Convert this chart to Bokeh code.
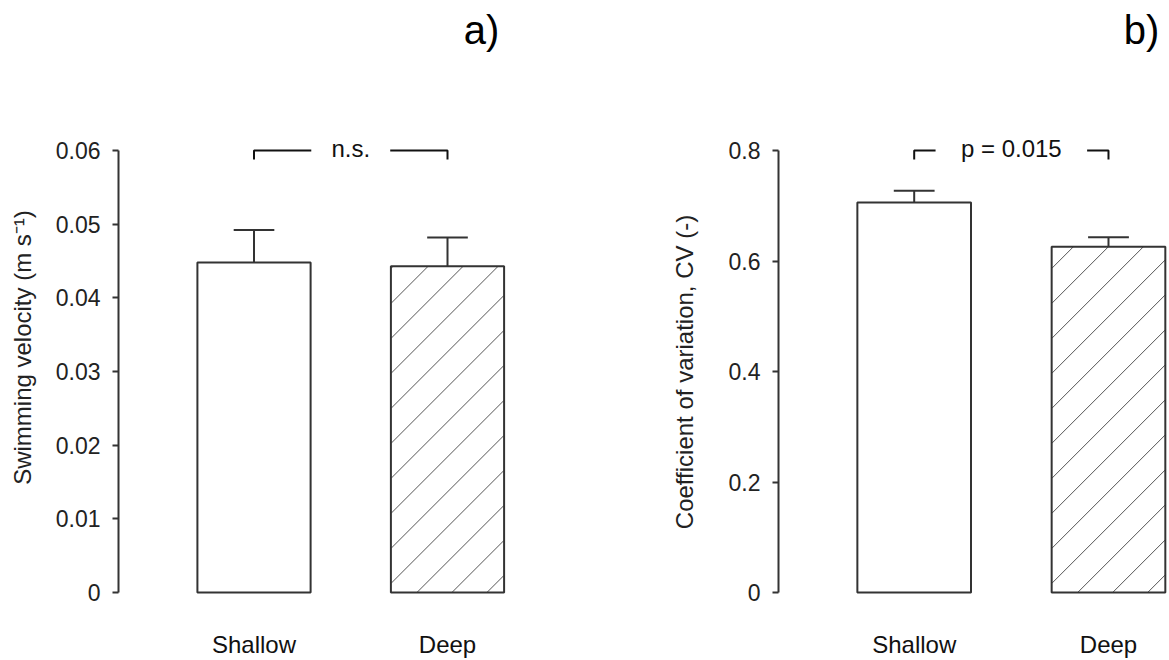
import math
from bokeh.plotting import figure
from bokeh.layouts import row
from bokeh.models import Range1d, FixedTicker, ColumnDataSource
from bokeh.core.properties import value
from bokeh.embed import file_html
from bokeh.resources import INLINE

# ---- data ----
categories = ["Shallow", "Deep"]
category_x = [1, 2]
hatched = [False, True]

velocity_mean = [0.0448, 0.0443]
velocity_sem = [0.0044, 0.0039]
velocity_ticks = [0, 0.01, 0.02, 0.03, 0.04, 0.05, 0.06]
velocity_tick_labels = ["0", "0.01", "0.02", "0.03", "0.04", "0.05", "0.06"]
velocity_label = "Swimming velocity (m s\u207b\u00b9)"
velocity_sig = "n.s."

cv_mean = [0.706, 0.626]
cv_sem = [0.021, 0.017]
cv_ticks = [0, 0.2, 0.4, 0.6, 0.8]
cv_tick_labels = ["0", "0.2", "0.4", "0.6", "0.8"]
cv_label = "Coefficient of variation, CV (-)"
cv_sig = "p = 0.015"

FONT = "Liberation Sans"
LINE = "#333333"
TEXT = "#222222"
HEIGHT = 660
BORDER_BOTTOM = 64
FRAME_H = HEIGHT - BORDER_BOTTOM
BAR_W = 0.585
HATCH_SPACING = 35   # px
HATCH_PHASE = 26     # px


def hatch_segments(xc, top, xpp, upp):
    """45-degree hatch lines clipped to one bar (computed from its value)."""
    L = xc - BAR_W / 2
    w_px = BAR_W / xpp
    h_px = top / upp
    x0s, y0s, x1s, y1s = [], [], [], []
    c = HATCH_PHASE - math.ceil(h_px / HATCH_SPACING) * HATCH_SPACING
    while c < w_px:
        t0 = max(0.0, -c)
        t1 = min(h_px, w_px - c)
        if t1 > t0:
            x0s.append(L + (c + t0) * xpp)
            y0s.append(t0 * upp)
            x1s.append(L + (c + t1) * xpp)
            y1s.append(t1 * upp)
        c += HATCH_SPACING
    return x0s, y0s, x1s, y1s


def label_fig(width, text, cx, cy):
    f = figure(width=width, height=HEIGHT, x_range=Range1d(0, width),
               y_range=Range1d(0, FRAME_H), output_backend="svg",
               toolbar_location=None, x_axis_location=None,
               y_axis_location=None, min_border_left=0, min_border_right=0,
               min_border_top=0, min_border_bottom=BORDER_BOTTOM)
    f.title.visible = False
    f.outline_line_color = None
    f.grid.visible = False
    f.text(x=[cx], y=[FRAME_H - cy], text=[text], angle=math.pi / 2,
           text_align="center", text_baseline="middle",
           text_font=value(FONT), text_font_size="24px", text_color=TEXT)
    return f


def panel(means, errs, ticks, tick_labels, letter, sig, width,
          border_left, border_right, x_start, x_end, gap_half, letter_x):
    ymax = ticks[-1]
    upp = ymax / 442.0  # data units per pixel
    frame_w = width - border_left - border_right
    xpp = (x_end - x_start) / frame_w
    p = figure(width=width, height=HEIGHT,
               x_range=Range1d(x_start, x_end),
               y_range=Range1d(-4 * upp, ymax + 150 * upp),
               output_backend="svg", toolbar_location=None,
               min_border_left=border_left, min_border_right=border_right,
               min_border_top=0, min_border_bottom=BORDER_BOTTOM)
    p.title.visible = False
    p.outline_line_color = None
    p.xgrid.visible = False
    p.ygrid.visible = False
    p.background_fill_color = "white"
    p.border_fill_color = "white"

    # y axis
    ya = p.yaxis[0]
    ya.ticker = FixedTicker(ticks=ticks)
    ya.major_label_overrides = {t: l for t, l in zip(ticks, tick_labels)}
    ya.bounds = (0, ymax)
    ya.axis_line_color = LINE
    ya.axis_line_width = 2
    ya.major_tick_line_color = LINE
    ya.major_tick_line_width = 2
    ya.major_tick_out = 6
    ya.major_tick_in = 0
    ya.minor_tick_line_color = None
    ya.major_label_text_font = FONT
    ya.major_label_text_font_size = "23px"
    ya.major_label_text_color = TEXT
    ya.major_label_standoff = 12

    # x axis
    xa = p.xaxis[0]
    xa.ticker = FixedTicker(ticks=category_x)
    xa.major_label_overrides = {x: c for x, c in zip(category_x, categories)}
    xa.axis_line_color = None
    xa.major_tick_line_color = None
    xa.minor_tick_line_color = None
    xa.major_label_text_font = FONT
    xa.major_label_text_font_size = "24px"
    xa.major_label_text_color = "#111111"
    xa.major_label_standoff = 28

    src = ColumnDataSource(dict(
        x=category_x, top=means,
        err_top=[m + e for m, e in zip(means, errs)],
        cap0=[x - 0.105 for x in category_x],
        cap1=[x + 0.105 for x in category_x]))

    p.segment(x0="x", y0="top", x1="x", y1="err_top", source=src,
              line_color=LINE, line_width=2)
    p.segment(x0="cap0", y0="err_top", x1="cap1", y1="err_top", source=src,
              line_color=LINE, line_width=2)
    p.vbar(x="x", top="top", bottom=0, width=BAR_W, source=src,
           fill_color="white", line_color=None)

    # hatching of the deep bar
    hx0, hy0, hx1, hy1 = [], [], [], []
    for xc, top, h in zip(category_x, means, hatched):
        if h:
            a, b, c_, d = hatch_segments(xc, top, xpp, upp)
            hx0 += a; hy0 += b; hx1 += c_; hy1 += d
    p.segment(x0=hx0, y0=hy0, x1=hx1, y1=hy1, line_color="#555555",
              line_width=1)

    p.vbar(x="x", top="top", bottom=0, width=BAR_W, source=src,
           fill_color=None, line_color=LINE, line_width=2)

    # significance bracket
    x1, x2 = category_x
    mid = (x1 + x2) / 2
    drop = 9 * upp
    p.multi_line(xs=[[x1, x1, mid - gap_half], [mid + gap_half, x2, x2]],
                 ys=[[ymax - drop, ymax, ymax], [ymax, ymax, ymax - drop]],
                 line_color="#111111", line_width=2)
    p.text(x=[mid], y=[ymax + 2 * upp], text=[sig], text_align="center",
           text_baseline="middle", text_font=value(FONT),
           text_font_size="24px", text_color="#111111")

    # panel letter
    p.text(x=[letter_x], y=[ymax + 121 * upp], text=[letter],
           text_align="center", text_baseline="middle",
           text_font=value(FONT), text_font_size="40px", text_color="#000000")
    return p


left_label = label_fig(50, velocity_label, 22, 347)
left = panel(velocity_mean, velocity_sem, velocity_ticks, velocity_tick_labels,
             "a)", velocity_sig, width=590, border_left=68, border_right=40,
             x_start=0.2997, x_end=2.7907, gap_half=0.204, letter_x=2.176)
right_label = label_fig(65, cv_label, 43.5, 371.5)
right = panel(cv_mean, cv_sem, cv_ticks, cv_tick_labels,
              "b)", cv_sig, width=464, border_left=73, border_right=0,
              x_start=0.3016, x_end=2.314, gap_half=0.39, letter_x=2.17)

layout = row(left_label, left, right_label, right)
open("out.html", "w").write(file_html(layout, INLINE))
